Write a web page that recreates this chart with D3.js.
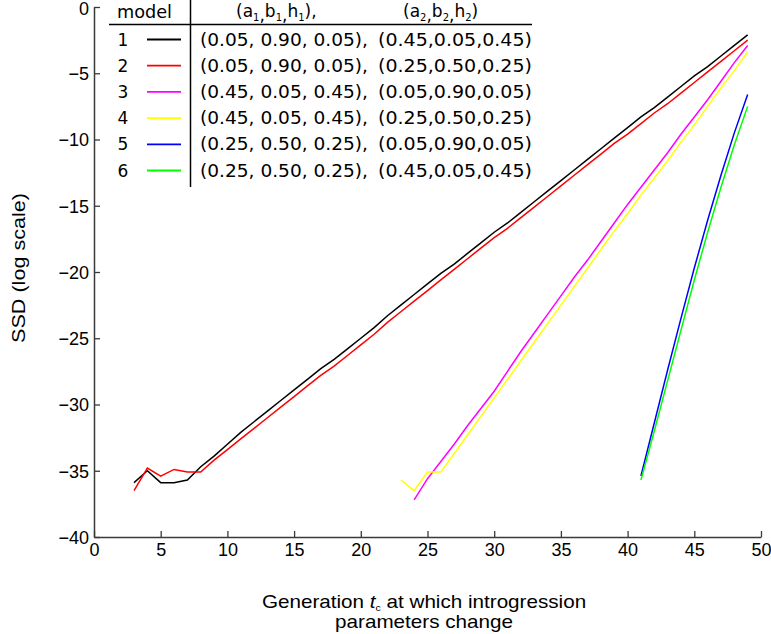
<!DOCTYPE html>
<html><head><meta charset="utf-8">
<script src="https://cdn.jsdelivr.net/npm/d3@7"></script>
<style>body{margin:0;background:#fff}svg{display:block}</style>
</head><body><svg id="chart" width="771" height="634"></svg>
<script>
// ---------------- data ----------------
const gensA = [3,4,5,6,7,8,9,10,11,12,13,14,15,16,17,18,19,20,21,22,23,24,25,26,27,28,29,30,31,32,33,34,35,36,37,38,39,40,41,42,43,44,45,46,47,48,49];
const model1 = [-35.9,-35.0,-35.9,-35.9,-35.7,-34.7,-33.9,-33.0,-32.1,-31.3,-30.5,-29.7,-28.9,-28.1,-27.3,-26.6,-25.8,-25.0,-24.2,-23.3,-22.5,-21.7,-20.9,-20.1,-19.4,-18.6,-17.8,-17.0,-16.3,-15.5,-14.7,-13.9,-13.1,-12.3,-11.5,-10.7,-9.9,-9.1,-8.3,-7.6,-6.8,-6.0,-5.2,-4.5,-3.7,-2.9,-2.1];
const model2 = [-36.5,-34.8,-35.4,-34.9,-35.1,-35.1,-34.2,-33.4,-32.6,-31.8,-31.0,-30.2,-29.4,-28.6,-27.8,-27.1,-26.3,-25.5,-24.7,-23.8,-23.0,-22.2,-21.4,-20.6,-19.8,-19.0,-18.2,-17.4,-16.7,-15.9,-15.1,-14.3,-13.5,-12.7,-11.9,-11.1,-10.3,-9.6,-8.8,-8.0,-7.3,-6.5,-5.7,-4.9,-4.1,-3.3,-2.5];
const gensB = [24,25,26,27,28,29,30,31,32,33,34,35,36,37,38,39,40,41,42,43,44,45,46,47,48,49];
const model3 = [-37.2,-35.6,-34.3,-33.0,-31.6,-30.3,-29.0,-27.5,-26.0,-24.6,-23.2,-21.8,-20.4,-19.1,-17.7,-16.3,-14.9,-13.6,-12.3,-11.0,-9.6,-8.3,-7.0,-5.6,-4.2,-2.9];
const gensC = [23,24,25,26,27,28,29,30,31,32,33,34,35,36,37,38,39,40,41,42,43,44,45,46,47,48,49];
const model4 = [-35.7,-36.5,-35.1,-35.1,-33.7,-32.3,-30.9,-29.5,-28.1,-26.7,-25.3,-23.9,-22.5,-21.1,-19.7,-18.3,-16.9,-15.6,-14.2,-12.9,-11.6,-10.2,-8.9,-7.5,-6.1,-4.8,-3.4];
const gensD = [41,42,43,44,45,46,47,48,49];
const model5 = [-35.4,-31.4,-27.4,-23.5,-19.7,-16.1,-12.7,-9.5,-6.6];
const model6 = [-35.7,-32.0,-28.2,-24.4,-20.6,-17.0,-13.6,-10.4,-7.5];

const modelNames = ["1","2","3","4","5","6"];
const modelColors = ["#000000","#ff0000","#ff00ff","#ffff00","#0000ff","#00ff00"];
const params1 = ["(0.05, 0.90, 0.05),","(0.05, 0.90, 0.05),","(0.45, 0.05, 0.45),","(0.45, 0.05, 0.45),","(0.25, 0.50, 0.25),","(0.25, 0.50, 0.25),"];
const params2 = ["(0.45,0.05,0.45)","(0.25,0.50,0.25)","(0.05,0.90,0.05)","(0.25,0.50,0.25)","(0.05,0.90,0.05)","(0.45,0.05,0.45)"];
const xTicks = [0,5,10,15,20,25,30,35,40,45,50];
const yTicks = [0,-5,-10,-15,-20,-25,-30,-35,-40];

const seriesList = [
  {x: gensA, y: model1},
  {x: gensA, y: model2},
  {x: gensB, y: model3},
  {x: gensC, y: model4},
  {x: gensD, y: model5},
  {x: gensD, y: model6}
];

// ---------------- layout ----------------
const svg = d3.select("#chart");
const L = 94, R = 761, T = 7, B = 537;
const x = d3.scaleLinear().domain([0,50]).range([L,R]);
const y = d3.scaleLinear().domain([-40,0]).range([B,T]);
const axisColor = "#3a3a3a";
const tickFont = "Liberation Sans, Arial, sans-serif";

// lines
const line = d3.line().x(d => x(d[0])).y(d => y(d[1]));
seriesList.forEach((s,i) => {
  svg.append("path")
    .datum(s.x.map((g,j) => [g, s.y[j]]))
    .attr("fill","none")
    .attr("stroke", modelColors[i])
    .attr("stroke-width", 1.5)
    .attr("d", line);
});

// axes
const xAxis = svg.append("g").attr("transform",`translate(0,${B})`)
  .call(d3.axisBottom(x).tickValues(xTicks).tickSizeInner(-6).tickSizeOuter(0).tickPadding(6).tickFormat(d3.format("d")));
const yAxis = svg.append("g").attr("transform",`translate(${L},0)`)
  .call(d3.axisLeft(y).tickValues(yTicks).tickSizeInner(-6).tickSizeOuter(0).tickPadding(5).tickFormat(d => d < 0 ? "\u2212" + Math.abs(d) : d));
[xAxis, yAxis].forEach(a => {
  a.select(".domain").attr("stroke", axisColor).attr("stroke-width", 1.5);
  a.selectAll(".tick line").attr("stroke", axisColor).attr("stroke-width", 1.3);
  a.selectAll(".tick text").attr("fill","#000").attr("font-family", tickFont).attr("font-size", 18);
});
xAxis.selectAll(".tick text").attr("dy", "0.71em");
yAxis.selectAll(".tick text").attr("dy", d => d === 0 ? "0.42em" : "0.36em");

// axis labels
svg.append("text")
  .attr("transform","translate(25,268) rotate(-90)")
  .attr("text-anchor","middle")
  .attr("font-family", tickFont).attr("font-size", 19)
  .attr("textLength", 150).attr("lengthAdjust","spacingAndGlyphs")
  .text("SSD  (log scale)");
const xl = svg.append("text")
  .attr("transform","translate(424,608) scale(1.18,1)")
  .attr("text-anchor","middle")
  .attr("font-family", tickFont).attr("font-size", 17.5);
xl.append("tspan").text("Generation ");
xl.append("tspan").attr("font-style","italic").text("t");
xl.append("tspan").attr("font-size", 9).attr("dy", 3).text("c");
xl.append("tspan").attr("dy", -3).text(" at which introgression");
xl.append("tspan").attr("x", 0).attr("dy", 20.5).text("parameters change");

// legend table
const lg = svg.append("g").attr("font-family","DejaVu Sans, sans-serif").attr("font-size", 17).attr("fill","#000");
lg.append("line").attr("x1",109).attr("x2",532).attr("y1",24.5).attr("y2",24.5).attr("stroke","#000").attr("stroke-width",1.5);
lg.append("line").attr("x1",190.5).attr("x2",190.5).attr("y1",0).attr("y2",187).attr("stroke","#000").attr("stroke-width",1.5);
lg.append("text").attr("x",117).attr("y",18).attr("textLength",55).attr("lengthAdjust","spacingAndGlyphs").text("model");

function header(x0, idx, trailing) {
  const t = lg.append("text").attr("x", x0).attr("y", 17);
  const parts = ["a","b","h"];
  t.append("tspan").text("(");
  parts.forEach((p,k) => {
    t.append("tspan").attr("dy", k === 0 ? 0 : -4).text(p);
    t.append("tspan").attr("font-size", 10).attr("dy", 4).text(idx);
    if (k < 2) t.append("tspan").attr("dy", 0).text(",");
  });
  t.append("tspan").attr("dy", -4).text(")" + trailing);
}
header(236, "1", ",");
header(403, "2", "");

const rowY = d3.scaleLinear().domain([0,5]).range([45.5,176.5]);
modelNames.forEach((m,i) => {
  const by = rowY(i);
  lg.append("text").attr("x",123).attr("y",by).attr("text-anchor","middle").text(m);
  lg.append("line").attr("x1",147).attr("x2",181).attr("y1",by-6).attr("y2",by-6)
    .attr("stroke", modelColors[i]).attr("stroke-width",1.8);
  lg.append("text").attr("x",200).attr("y",by)
    .attr("textLength",168).attr("lengthAdjust","spacingAndGlyphs").text(params1[i]);
  lg.append("text").attr("x",378).attr("y",by)
    .attr("textLength",154).attr("lengthAdjust","spacingAndGlyphs").text(params2[i]);
});
</script></body></html>
